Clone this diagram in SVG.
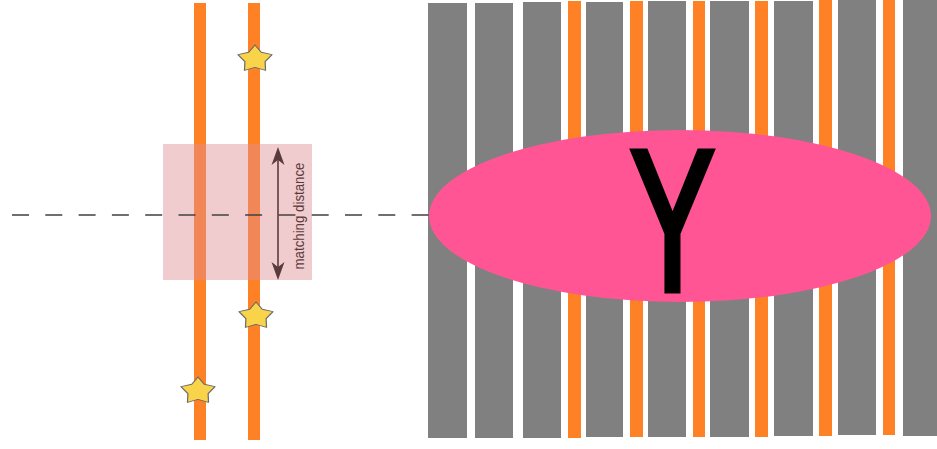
<svg xmlns="http://www.w3.org/2000/svg" width="937" height="449" viewBox="0 0 937 449">
<style>
.gray{fill:#808080}
.orange{fill:#FF8126}
.star{fill:#F9D44A;stroke:#6b6b6b;stroke-width:1.1;stroke-linejoin:round}
.dash{stroke:#404040;stroke-width:1.7;stroke-dasharray:17 16.3;fill:none}
.arrow{stroke:#5a3b3b;stroke-width:1.6;fill:none}
.lbl{font-family:"Liberation Sans","DejaVu Sans",sans-serif;font-size:14.5px;fill:#5a3b3b}
</style>
<defs>
<path id="starShape" transform="scale(1.12,0.88)" d="M0,-16 L5.58,-7.69 L15.22,-4.94 L9.03,2.94 L9.4,12.94 L0,9.5 L-9.4,12.94 L-9.03,2.94 L-15.22,-4.94 L-5.58,-7.69 Z"/>
<marker id="ah" viewBox="-15 -8 22 16" markerWidth="22" markerHeight="16" refX="0" refY="0" markerUnits="userSpaceOnUse" orient="auto-start-reverse">
<path d="M5,0 L-13,-6.5 L-8,0 L-13,6.5 Z" fill="#5a3b3b"/>
</marker>
</defs>
<rect width="937" height="449" fill="#ffffff"/>

<g id="strip-bars">
<rect class="gray" x="428" y="3" width="39" height="435"/>
<rect class="gray" x="475" y="3" width="38" height="435"/>
<rect class="gray" x="523" y="2" width="38" height="436"/>
<rect class="orange" x="568" y="1" width="13" height="437"/>
<rect class="gray" x="586" y="2" width="37" height="435"/>
<rect class="orange" x="630" y="1" width="13" height="436"/>
<rect class="gray" x="648" y="1" width="38" height="436"/>
<rect class="orange" x="693" y="1" width="12" height="436"/>
<rect class="gray" x="710" y="1" width="39" height="436"/>
<rect class="orange" x="755" y="1" width="13" height="436"/>
<rect class="gray" x="774" y="1" width="39" height="435"/>
<rect class="orange" x="819" y="0" width="13" height="436"/>
<rect class="gray" x="838" y="0" width="38" height="435"/>
<rect class="orange" x="883" y="0" width="12" height="435"/>
<rect class="gray" x="903" y="0" width="34" height="436"/>
</g>

<g id="y-ellipse">
<ellipse cx="680" cy="216" rx="251" ry="86" fill="#FF5595"/>
<text transform="translate(672.5,290) scale(0.63,1)" x="0" y="0" text-anchor="middle" font-family="'Liberation Sans','DejaVu Sans',sans-serif" font-size="200" fill="#000" stroke="#000" stroke-width="7">Y</text>
</g>

<g id="track-left">
<rect class="orange" x="194" y="3" width="12" height="437"/>
</g>
<g id="track-right">
<rect class="orange" x="248" y="3" width="12" height="437"/>
</g>

<g id="match-window">
<rect x="163" y="144" width="149" height="136" fill="#DF8F95" opacity="0.45"/>
</g>

<g id="stars">
<use href="#starShape" class="star" x="255" y="59"/>
<use href="#starShape" class="star" x="256" y="316"/>
<use href="#starShape" class="star" x="198" y="391"/>
</g>

<g id="connectors">
<line class="dash" x1="12" y1="215" x2="430" y2="215"/>
<line class="arrow" x1="278" y1="152" x2="278" y2="275" marker-start="url(#ah)" marker-end="url(#ah)"/>
</g>

<g id="label">
<text class="lbl" transform="translate(303.5,216) rotate(-90)" x="0" y="0" text-anchor="middle" textLength="107" lengthAdjust="spacingAndGlyphs">matching distance</text>
</g>
</svg>
